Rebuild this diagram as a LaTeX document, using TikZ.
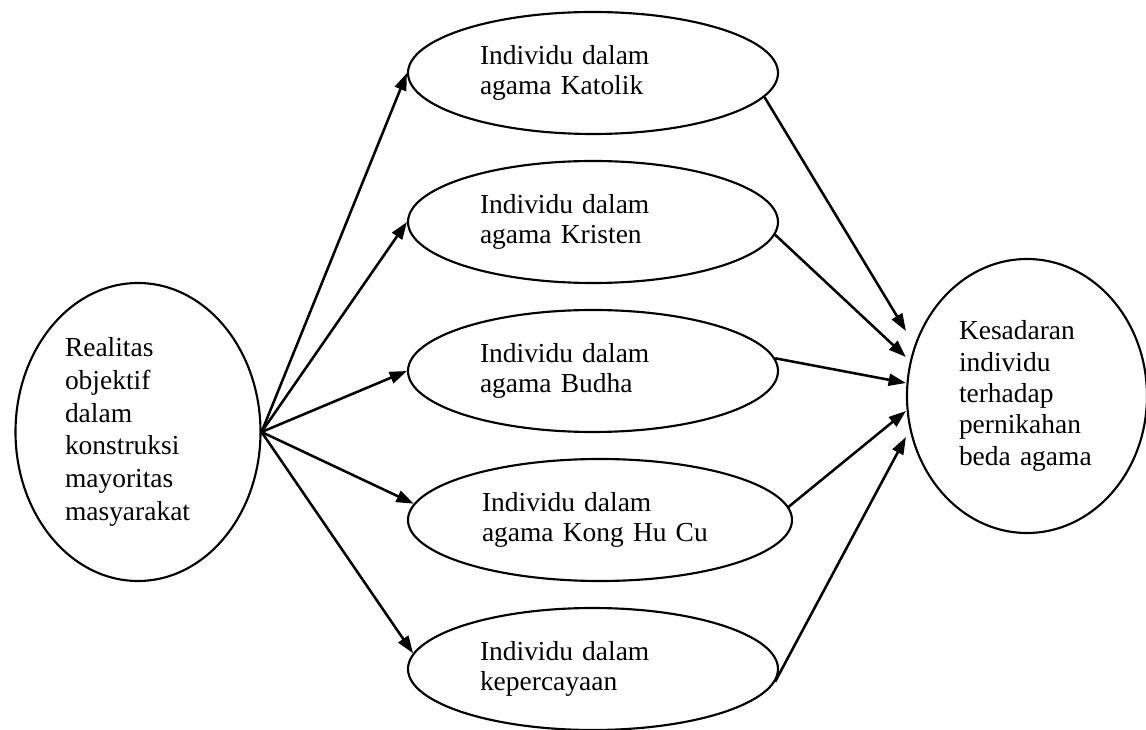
\documentclass[tikz,border=0pt]{standalone}
\usepackage{fontspec}
\setmainfont{Liberation Serif}
\usetikzlibrary{shapes.geometric, arrows.meta, calc}

\tikzset{
  oval/.style={draw, ellipse, line width=1.6pt, inner sep=0pt, align=left},
  panah/.style={-{Triangle[length=13pt,width=9pt]}, line width=1.9pt},
}

\begin{document}
\begin{tikzpicture}[x=0.75pt,y=0.75pt,yscale=-1,xscale=1]
\useasboundingbox (0,0) rectangle (1146,730);

%Shape: Ellipse [realitas]
\node [oval, minimum width=183.75pt, minimum height=223.5pt, text width=109.5pt, font=\fontsize{20.6}{24.6}\selectfont] (realitas) at (138,432) {Realitas\\objektif\\dalam\\konstruksi\\mayoritas\\masyarakat};

%Shape: Ellipse [agama]
\node [oval, minimum width=277.5pt, minimum height=91.5pt, text width=169.5pt, font=\fontsize{20.6}{22.5}\selectfont] (katolik) at (593,73) {Individu dalam\\agama Katolik};
\node [oval, minimum width=277.5pt, minimum height=91.5pt, text width=169.5pt, font=\fontsize{20.6}{22.5}\selectfont] (kristen) at (593,222) {Individu dalam\\agama Kristen};
\node [oval, minimum width=277.5pt, minimum height=91.5pt, text width=169.5pt, font=\fontsize{20.6}{22.5}\selectfont] (budha) at (593,371) {Individu dalam\\agama Budha};
\node [oval, minimum width=288pt, minimum height=91.5pt, text width=177pt, font=\fontsize{20.6}{22.5}\selectfont] (konghucu) at (600,520) {Individu dalam\\agama Kong Hu Cu};
\node [oval, minimum width=277.5pt, minimum height=91.5pt, text width=169.5pt, font=\fontsize{20.6}{22.5}\selectfont] (kepercayaan) at (593,669) {Individu dalam\\kepercayaan};

%Shape: Ellipse [kesadaran]
\node [oval, minimum width=180pt, minimum height=205.5pt, text width=102pt, font=\fontsize{20.6}{23.5}\selectfont] (kesadaran) at (1027,396) {Kesadaran\\individu\\terhadap\\pernikahan\\beda agama};

% arrow ends in front of kesadaran
\coordinate (k1) at ($(kesadaran.west)+(0,-65)$);
\coordinate (k2) at ($(kesadaran.west)+(0,-39)$);
\coordinate (k3) at ($(kesadaran.west)+(0,-13)$);
\coordinate (k4) at ($(kesadaran.west)+(0,15)$);
\coordinate (k5) at ($(kesadaran.west)+(0,41)$);

%Straight Lines [realitas -> agama]
\draw [panah] (realitas.east) -- (katolik.west);
\draw [panah] (realitas.east) -- (kristen.west);
\draw [panah] (realitas.east) -- (budha.west);
\draw [panah] (realitas.east) -- (konghucu.175);
\draw [panah] (realitas.east) -- (kepercayaan.175);

%Straight Lines [agama -> kesadaran]
\draw [panah] (katolik.-8) -- (k1);
\draw [panah] (kristen.-4) -- (k2);
\draw [panah] (budha.4) -- (k3);
\draw [panah] (konghucu.4) -- (k4);
\draw [panah] (kepercayaan.-4) -- (k5);

\end{tikzpicture}
\end{document}
